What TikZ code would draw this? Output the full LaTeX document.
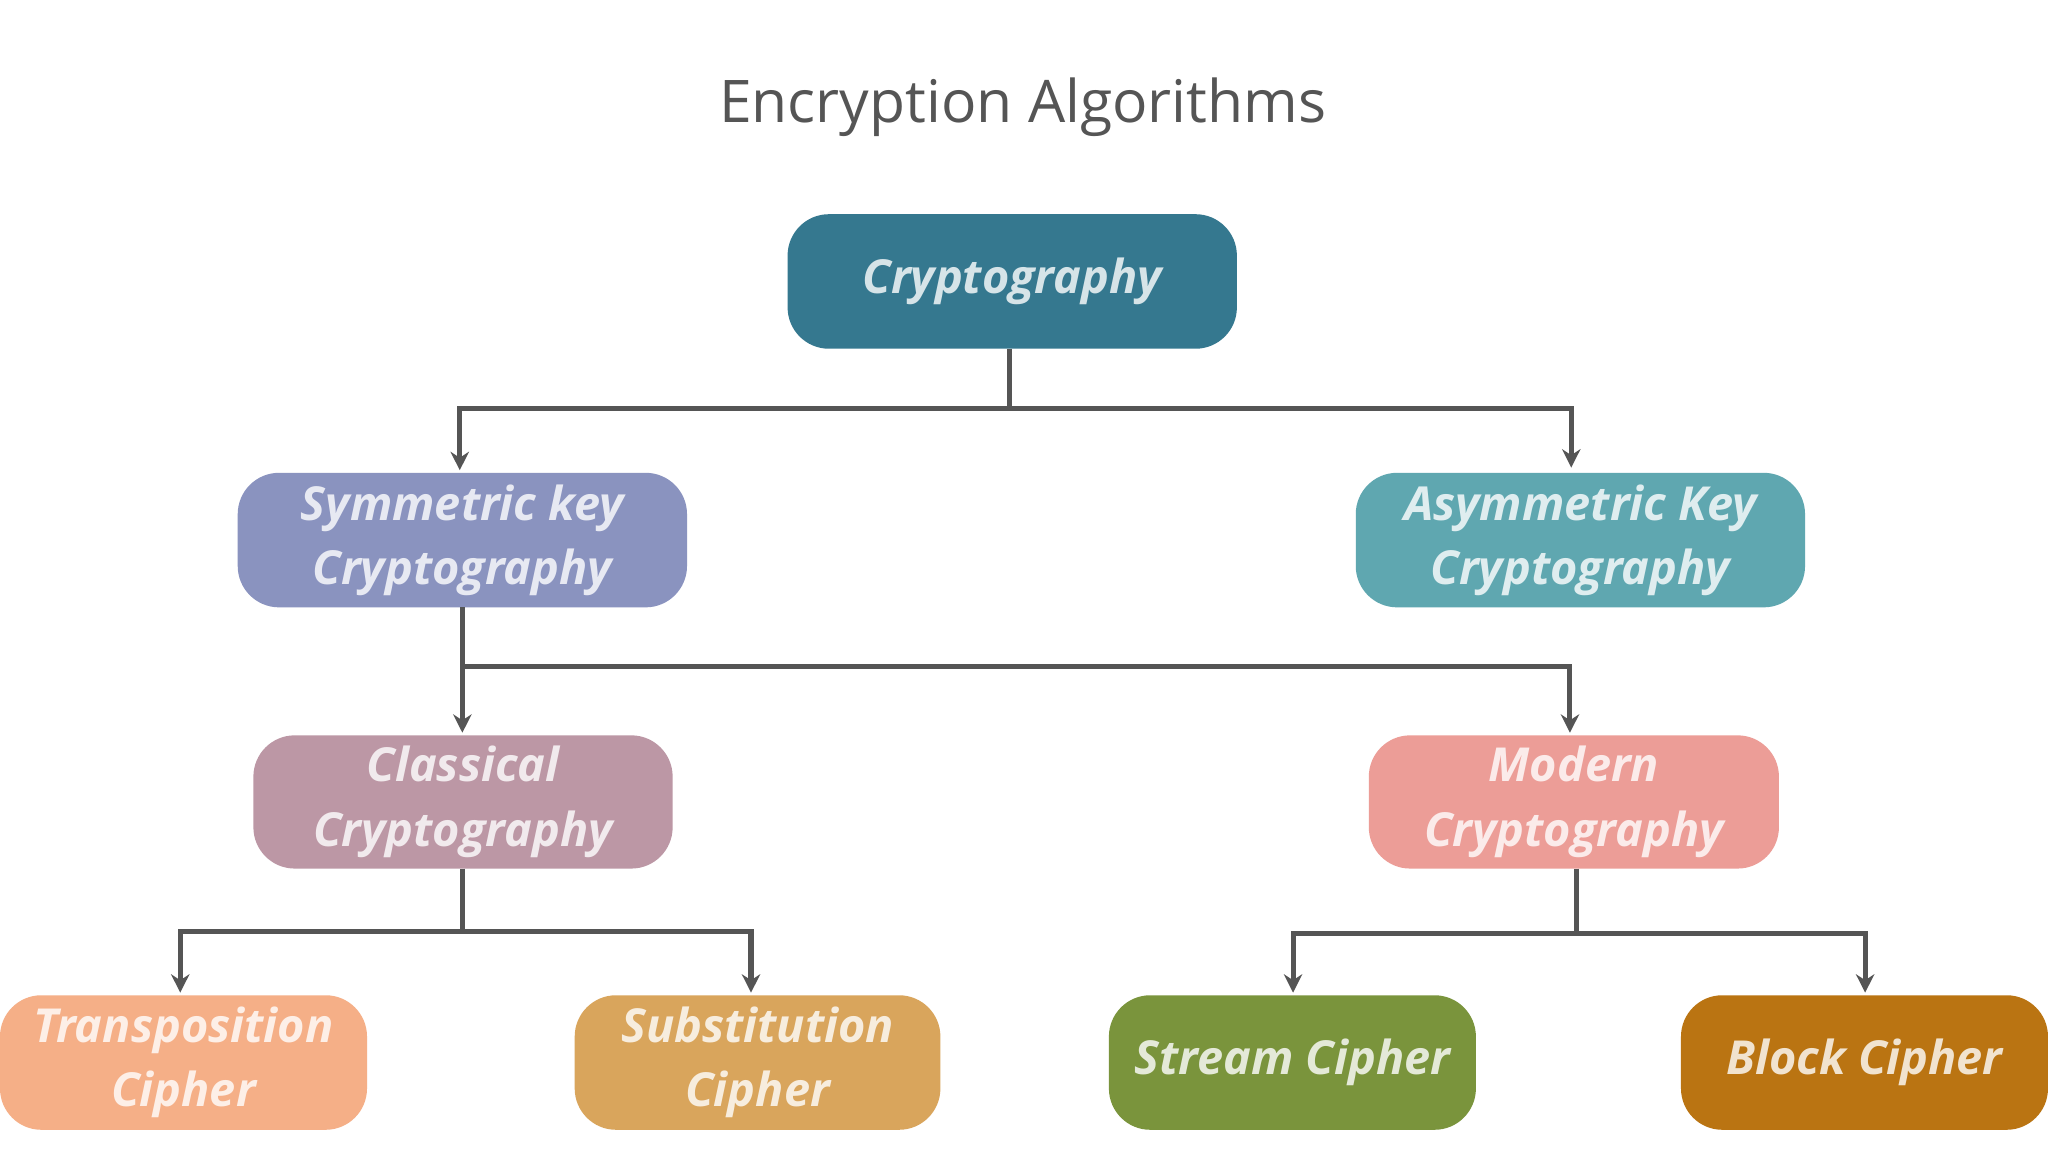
\documentclass[tikz,border=0pt]{standalone}
\usepackage{fontspec}
\setmainfont{Open Sans}
\usetikzlibrary{arrows.meta}
\definecolor{cC}{HTML}{35788F}
\definecolor{cS}{HTML}{8A93BF}
\definecolor{cA}{HTML}{5FA7B0}
\definecolor{cK}{HTML}{BC97A5}
\definecolor{cM}{HTML}{EC9D97}
\definecolor{cT}{HTML}{F5AF87}
\definecolor{cU}{HTML}{D9A55C}
\definecolor{cR}{HTML}{7A943C}
\definecolor{cB}{HTML}{BA7412}
\definecolor{ln}{HTML}{555555}
\begin{document}
\begin{tikzpicture}[x=0.01cm,y=-0.01cm,
  box/.style={rounded corners=9pt,draw=none,inner sep=0pt,
    text=white,text opacity=0.8,align=center,font=\fontsize{10.2}{14}\selectfont\bfseries\itshape},
  con/.style={draw=ln,line width=1.1pt},
  arr/.style={con,-{Stealth[length=4pt,width=4pt]}}]
\useasboundingbox (0,0) rectangle (1568,882);
\fill[white] (0,0) rectangle (1568,882);
\node[text=ln,font=\fontsize{12.8}{15}\selectfont] (title) at (783,82) {Encryption Algorithms};
\newcommand\bx[7]{\fill[#6,rounded corners=9pt] (#2,#4) rectangle (#3,#5);
  \node[box] (#1) at ({(#2+#3)/2},{(#4+#5)/2}) [minimum width={(#3-#2)*0.01cm},minimum height={(#5-#4)*0.01cm}] {#7};}
\bx{c}{603}{947}{164}{267}{cC}{Cryptography}
\bx{s}{182}{526}{362}{465}{cS}{Symmetric key\\Cryptography}
\bx{a}{1038}{1382}{362}{465}{cA}{Asymmetric Key\\Cryptography}
\bx{k}{194}{515}{563}{665}{cK}{Classical\\Cryptography}
\bx{m}{1048}{1362}{563}{665}{cM}{Modern\\Cryptography}
\bx{t}{0}{281}{762}{865}{cT}{Transposition\\Cipher}
\bx{u}{440}{720}{762}{865}{cU}{Substitution\\Cipher}
\bx{r}{849}{1130}{762}{865}{cR}{Stream Cipher}
\bx{b}{1287}{1568}{762}{865}{cB}{Block Cipher}
\coordinate (j1) at (773,313);
\coordinate (j2) at (354,510);
\coordinate (j3) at (354,713);
\coordinate (j4) at (1207,715);
\draw[con] (773,267) -- (j1);
\draw[arr] (j1) -| (352,360);
\draw[arr] (j1) -| (1203,358);
\draw[con] (354,465) -- (j2);
\draw[arr] (j2) -- (354,561);
\draw[arr] (j2) -| (1202,561);
\draw[con] (354,665) -- (j3);
\draw[arr] (j3) -| (138,760);
\draw[arr] (j3) -| (575,760);
\draw[con] (1207,665) -- (j4);
\draw[arr] (j4) -| (990,760);
\draw[arr] (j4) -| (1428,760);
\end{tikzpicture}
\end{document}
